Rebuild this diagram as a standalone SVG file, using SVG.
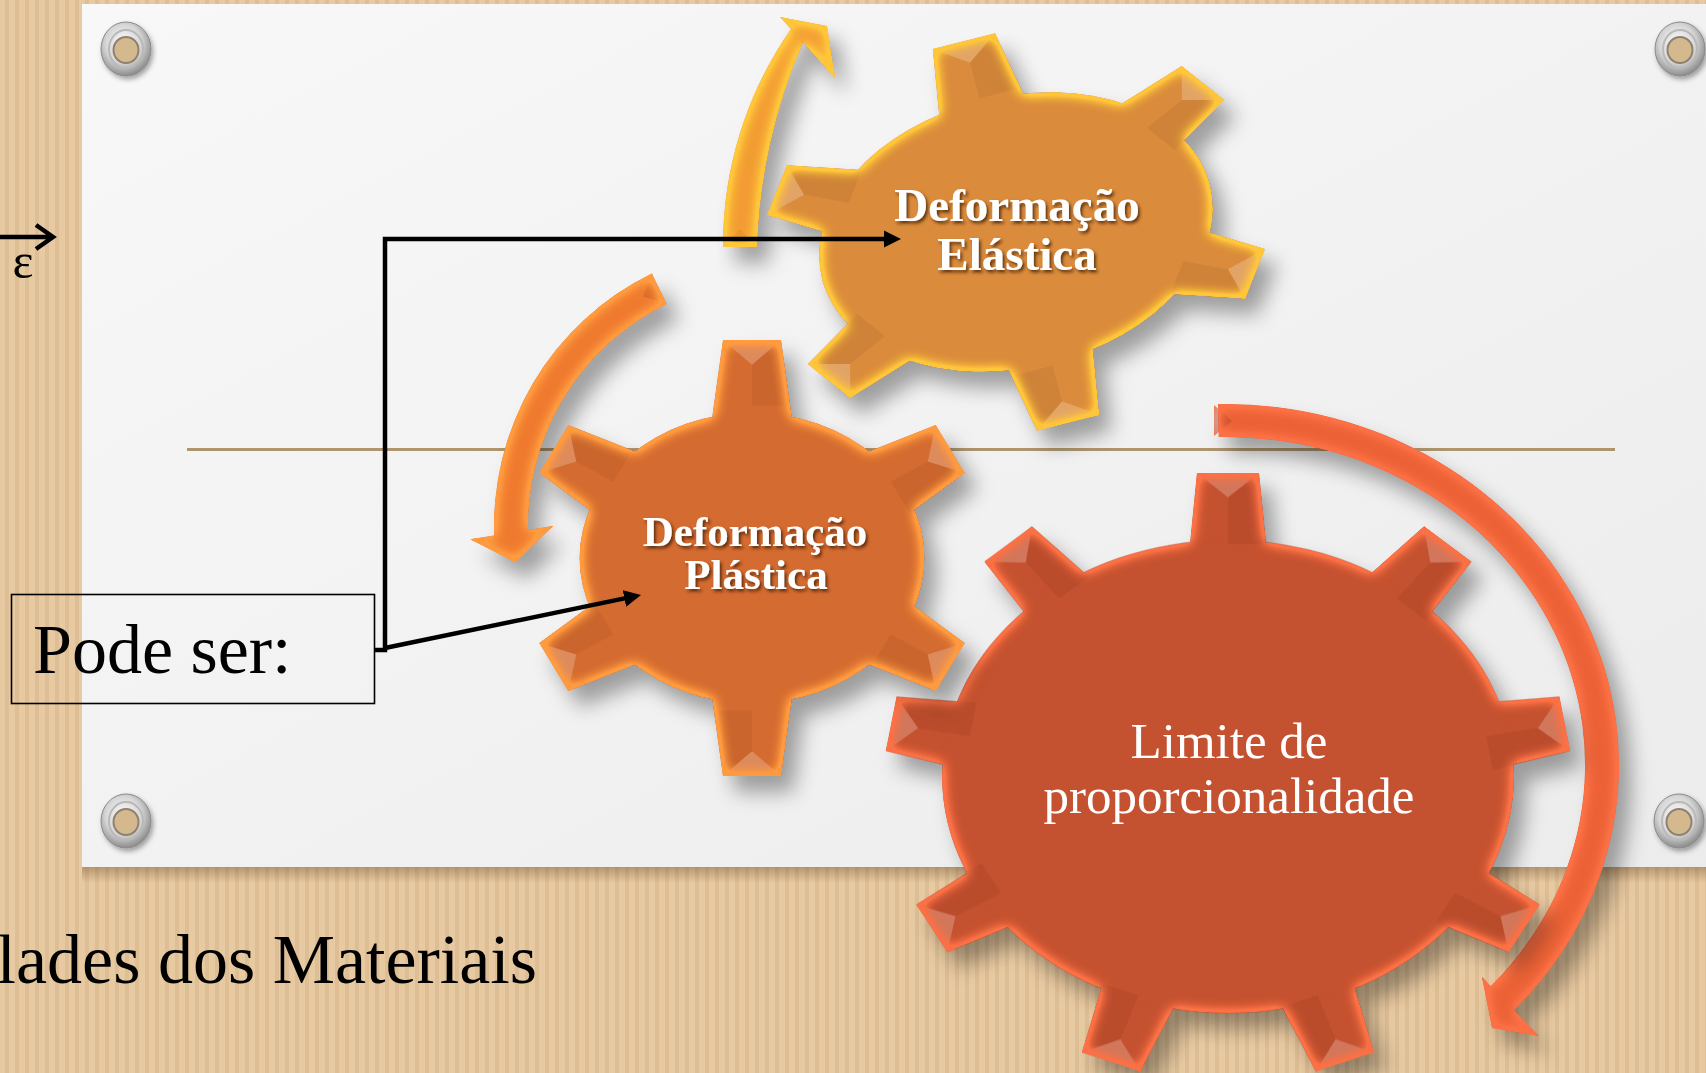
<svg xmlns="http://www.w3.org/2000/svg" width="1706" height="1073" viewBox="0 0 1706 1073">
<style>
.gt{font-family:"Liberation Serif","Times New Roman",serif;fill:#fff;text-anchor:middle}
.gb{font-weight:bold}
.lbl{font-family:"Liberation Serif","Times New Roman",serif;fill:#000}
.conn{fill:none;stroke:#000;stroke-width:4.5}
.facet{fill:#fff;fill-opacity:0.22}
.facet2{fill:#000;fill-opacity:0.05}
</style>
<defs>
<pattern id="card" width="10" height="20" patternUnits="userSpaceOnUse">
<rect width="10" height="20" fill="#e8caa2"/>
<rect x="5" width="4" height="20" fill="#d3b185" opacity="0.5"/>
</pattern>
<linearGradient id="paperG" x1="0" y1="0" x2="1" y2="1">
<stop offset="0" stop-color="#f8f8f8"/><stop offset="1" stop-color="#ececec"/>
</linearGradient>
<linearGradient id="paperSh" x1="0" y1="0" x2="0" y2="1">
<stop offset="0" stop-color="#6b4a26" stop-opacity="0.4"/><stop offset="1" stop-color="#6b4a26" stop-opacity="0"/>
</linearGradient>
<radialGradient id="metal" cx="0.45" cy="0.4" r="0.6">
<stop offset="0" stop-color="#ffffff"/><stop offset="0.6" stop-color="#d5d5d5"/><stop offset="1" stop-color="#8c8c8c"/>
</radialGradient>
<filter id="fE" x="-15%" y="-15%" width="140%" height="140%" color-interpolation-filters="sRGB">
<feGaussianBlur in="SourceAlpha" stdDeviation="7" result="b"/>
<feComposite in="SourceAlpha" in2="b" operator="arithmetic" k2="3" k3="-3" result="edge"/>
<feFlood flood-color="#ffc63a"/>
<feComposite in2="edge" operator="in" result="rim"/>
<feGaussianBlur in="SourceAlpha" stdDeviation="10" result="sb"/>
<feOffset in="sb" dx="12" dy="16" result="so"/>
<feFlood flood-color="#000" flood-opacity="0.35"/>
<feComposite in2="so" operator="in" result="sh"/>
<feMerge><feMergeNode in="sh"/><feMergeNode in="SourceGraphic"/><feMergeNode in="rim"/></feMerge>
</filter>
<filter id="fP" x="-15%" y="-15%" width="140%" height="140%" color-interpolation-filters="sRGB">
<feGaussianBlur in="SourceAlpha" stdDeviation="7" result="b"/>
<feComposite in="SourceAlpha" in2="b" operator="arithmetic" k2="3" k3="-3" result="edge"/>
<feFlood flood-color="#ff9a3e"/>
<feComposite in2="edge" operator="in" result="rim"/>
<feGaussianBlur in="SourceAlpha" stdDeviation="10" result="sb"/>
<feOffset in="sb" dx="12" dy="16" result="so"/>
<feFlood flood-color="#000" flood-opacity="0.35"/>
<feComposite in2="so" operator="in" result="sh"/>
<feMerge><feMergeNode in="sh"/><feMergeNode in="SourceGraphic"/><feMergeNode in="rim"/></feMerge>
</filter>
<filter id="fR" x="-15%" y="-15%" width="140%" height="140%" color-interpolation-filters="sRGB">
<feGaussianBlur in="SourceAlpha" stdDeviation="7" result="b"/>
<feComposite in="SourceAlpha" in2="b" operator="arithmetic" k2="3" k3="-3" result="edge"/>
<feFlood flood-color="#fb7044"/>
<feComposite in2="edge" operator="in" result="rim"/>
<feGaussianBlur in="SourceAlpha" stdDeviation="10" result="sb"/>
<feOffset in="sb" dx="12" dy="16" result="so"/>
<feFlood flood-color="#000" flood-opacity="0.35"/>
<feComposite in2="so" operator="in" result="sh"/>
<feMerge><feMergeNode in="sh"/><feMergeNode in="SourceGraphic"/><feMergeNode in="rim"/></feMerge>
</filter>
<filter id="tshadow" x="-10%" y="-30%" width="130%" height="170%">
<feDropShadow dx="2" dy="2.5" stdDeviation="1.5" flood-color="#3b1d05" flood-opacity="0.75"/>
</filter>
<filter id="gromSh" x="-50%" y="-50%" width="200%" height="200%">
<feDropShadow dx="2" dy="3" stdDeviation="2.5" flood-color="#000" flood-opacity="0.35"/>
</filter>
<path id="toothA" d="M0.9,-0.27 L1.5,-0.19 L1.5,0.19 L0.9,0.27 Z"/>
<path id="facetA" d="M1.5,-0.19 L1.5,0.19 L1.33,0 Z"/>
<path id="sideA" d="M1.05,0.25 L1.5,0.19 L1.33,0 L1.05,0 Z"/>
<path id="toothB" d="M1.0,-0.18 L1.5,-0.136 L1.5,0.136 L1.0,0.18 Z"/>
<path id="facetB" d="M1.5,-0.136 L1.5,0.136 L1.38,0 Z"/>
<path id="sideB" d="M1.15,0.17 L1.5,0.136 L1.38,0 L1.15,0 Z"/>
<g id="grommet">
<ellipse rx="25" ry="27" fill="url(#metal)" stroke="#8a8a8a" stroke-width="1" filter="url(#gromSh)"/>
<ellipse rx="17" ry="19" fill="none" stroke="#b9b9b9" stroke-width="2"/>
<ellipse cy="1" rx="12.5" ry="13" fill="#d4b98f" stroke="#8f8170" stroke-width="2"/>
</g>
<g id="teeth6A">
<use href="#toothA" transform="rotate(-90)"/><use href="#toothA" transform="rotate(-30)"/><use href="#toothA" transform="rotate(30)"/>
<use href="#toothA" transform="rotate(90)"/><use href="#toothA" transform="rotate(150)"/><use href="#toothA" transform="rotate(210)"/>
</g>
<g id="facets6A">
<g class="facet">
<use href="#facetA" transform="rotate(-90)"/><use href="#facetA" transform="rotate(-30)"/><use href="#facetA" transform="rotate(30)"/>
<use href="#facetA" transform="rotate(90)"/><use href="#facetA" transform="rotate(150)"/><use href="#facetA" transform="rotate(210)"/>
</g>
<g class="facet2">
<use href="#sideA" transform="rotate(-90)"/><use href="#sideA" transform="rotate(-30)"/><use href="#sideA" transform="rotate(30)"/>
<use href="#sideA" transform="rotate(90)"/><use href="#sideA" transform="rotate(150)"/><use href="#sideA" transform="rotate(210)"/>
</g>
</g>
<marker id="ah" markerUnits="userSpaceOnUse" markerWidth="18" markerHeight="18" viewBox="0 0 18 18" refX="5" refY="9" orient="auto">
<path d="M0,0.5 L17,9 L0,17.5 Z" fill="#000"/>
</marker>
</defs>

<g id="background">
<rect width="1706" height="1073" fill="url(#card)"/>
<rect x="82" y="867" width="1630" height="16" fill="url(#paperSh)"/>
<rect x="82" y="4" width="1630" height="863" fill="url(#paperG)"/>
<use href="#grommet" x="126" y="49"/>
<use href="#grommet" x="1680" y="49"/>
<use href="#grommet" x="126" y="821"/>
<use href="#grommet" x="1679" y="821"/>
<line x1="187" y1="449.5" x2="1615" y2="449.5" stroke="#ad956e" stroke-width="3"/>
</g>

<g id="fragment-epsilon">
<path d="M-2,237 L50,237 M36,225 L53,237 L36,249" fill="none" stroke="#000" stroke-width="4.5"/>
<text class="lbl" x="23" y="278" font-size="50" text-anchor="middle">ε</text>
</g>

<g id="title">
<text class="lbl" x="537" y="983" font-size="70" text-anchor="end">lades dos Materiais</text>
</g>

<g id="node-limite">
<g filter="url(#fR)">
<path d="M1218.1,404.1 A394,361 0 0 1 1510.8,1013.5 L1486.1,990.8 A360,328 0 0 0 1218.7,437 Z" fill="#ec6236"/>
<polygon points="1482,977 1492,1028 1539,1036" fill="#ec6236"/>
<polygon points="1214,405 1232,421 1214,436" fill="#b8432a" opacity="0.5"/>
</g>
<g filter="url(#fR)">
<g transform="matrix(228,0,0,202.4,1228,776.6)">
<g fill="#c4512f">
<use href="#toothB" transform="rotate(-90)"/><use href="#toothB" transform="rotate(-50)"/><use href="#toothB" transform="rotate(-10)"/>
<use href="#toothB" transform="rotate(30)"/><use href="#toothB" transform="rotate(70)"/><use href="#toothB" transform="rotate(110)"/>
<use href="#toothB" transform="rotate(150)"/><use href="#toothB" transform="rotate(190)"/><use href="#toothB" transform="rotate(230)"/>
<ellipse rx="1.254" ry="1.169"/>
</g>
<g class="facet">
<use href="#facetB" transform="rotate(-90)"/><use href="#facetB" transform="rotate(-50)"/><use href="#facetB" transform="rotate(-10)"/>
<use href="#facetB" transform="rotate(30)"/><use href="#facetB" transform="rotate(70)"/><use href="#facetB" transform="rotate(110)"/>
<use href="#facetB" transform="rotate(150)"/><use href="#facetB" transform="rotate(190)"/><use href="#facetB" transform="rotate(230)"/>
</g>
<g class="facet2">
<use href="#sideB" transform="rotate(-90)"/><use href="#sideB" transform="rotate(-50)"/><use href="#sideB" transform="rotate(-10)"/>
<use href="#sideB" transform="rotate(30)"/><use href="#sideB" transform="rotate(70)"/><use href="#sideB" transform="rotate(110)"/>
<use href="#sideB" transform="rotate(150)"/><use href="#sideB" transform="rotate(190)"/><use href="#sideB" transform="rotate(230)"/>
</g>
</g>
</g>
<text class="gt" x="1229" y="758" font-size="51">Limite de</text>
<text class="gt" x="1229" y="813" font-size="51">proporcionalidade</text>
</g>

<g id="node-plastica">
<g filter="url(#fP)">
<path d="M651.8,273.4 A281,281 0 0 0 494.4,540.7 L528.3,538.9 A247,247 0 0 1 666.7,304 Z" fill="#ef7a2f"/>
<polygon points="470.3,539.3 515.6,562.5 553,526" fill="#ef7a2f"/>
<polygon points="651.8,273.4 666.7,304 643,296.6" fill="#c85a24" opacity="0.45"/>
</g>
<g filter="url(#fP)">
<g transform="matrix(152.6,0,0,145.3,752,558)">
<g fill="#d46b30">
<use href="#teeth6A"/>
<ellipse rx="1.13" ry="1.0"/>
</g>
<use href="#facets6A"/>
</g>
</g>
<g filter="url(#tshadow)">
<text class="gt gb" x="755" y="546" font-size="43">Deformação</text>
<text class="gt gb" x="756" y="589" font-size="43">Plástica</text>
</g>
</g>

<g id="node-elastica">
<g filter="url(#fE)">
<path d="M723,247 A377,377 0 0 1 791,29 L803,42.5 A565,565 0 0 0 757,247 Z" fill="#f29c33"/>
<polygon points="780,17 827,26 835,78" fill="#f29c33"/>
<polygon points="723,247 757,247 740,229" fill="#d98524" opacity="0.45"/>
</g>
<g filter="url(#fE)">
<g transform="matrix(164,-41.2,34.7,127.3,1016,232)">
<g fill="#da8b3b">
<use href="#teeth6A"/>
<ellipse rx="1.18" ry="1.03"/>
</g>
<use href="#facets6A"/>
</g>
</g>
<g filter="url(#tshadow)">
<text class="gt gb" x="1017" y="221" font-size="47">Deformação</text>
<text class="gt gb" x="1017" y="270" font-size="47">Elástica</text>
</g>
</g>

<g id="node-pode-ser">
<rect x="11.5" y="594.5" width="363" height="109" fill="none" stroke="#000" stroke-width="1.6"/>
<text class="lbl" x="33" y="673" font-size="70">Pode ser:</text>
</g>

<g id="connectors">
<path class="conn" d="M375,650 L385,650 L385,239 L889,239" marker-end="url(#ah)"/>
<path class="conn" d="M385,648 L629.3,597.4" marker-end="url(#ah)"/>
</g>
</svg>
